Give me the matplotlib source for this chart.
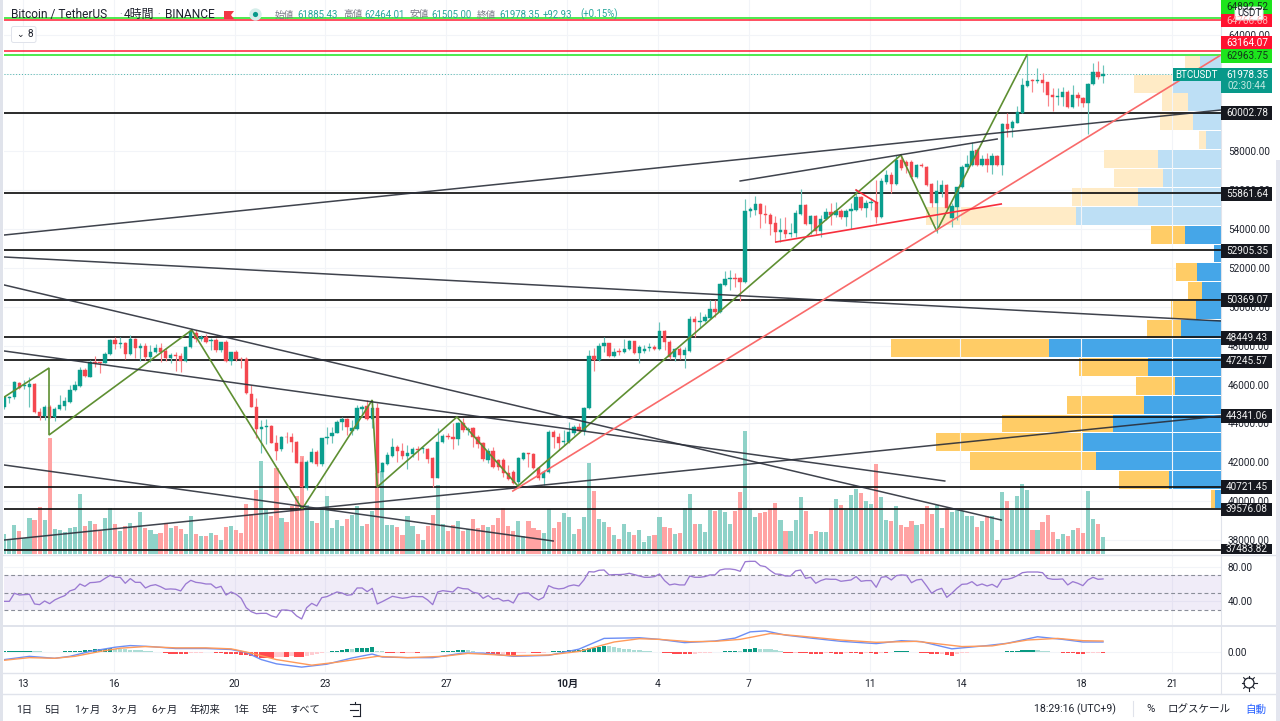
import numpy as np
import matplotlib
matplotlib.use("Agg")
import matplotlib.pyplot as plt
from matplotlib.lines import Line2D
from matplotlib.patches import Rectangle, FancyBboxPatch, Circle

W, H = 1280, 721
FF = ['Roboto', 'Noto Sans CJK JP', 'DejaVu Sans']
plt.rcParams['font.family'] = FF

opens = [44827,45308,45342,46097,45943,45874,46011,44570,44398,44827,
 44347,44724,44879,45119,45702,45943,46749,46406,47144,47144,
 47109,47555,48293,48087,48139,47555,48328,47864,47985,47401,
 47693,47864,47727,47350,47521,47470,47230,47916,48637,48328,
 48465,48259,48293,47779,48173,47230,47659,47315,47298,45514,
 44827,43729,43797,43866,43008,42665,43317,43317,43025,41996,
 40657,41996,42545,41893,43231,43369,43523,44055,44226,43609,
 43712,44741,44896,44226,44776,41481,41910,42339,42802,42596,
 42339,42425,42699,42665,42682,42202,41206,43025,43351,43283,
 43180,44038,43660,43746,43317,43008,42116,42596,42116,42116,
 41464,41515,40966,42167,42459,42408,41721,41206,41481,43574,
 43283,43060,43060,43489,43832,43609,44776,47470,47264,47985,
 48122,47470,47744,47659,47813,48242,47607,47743,47864,47949,
 47829,48773,48207,47435,47829,47520,47726,49391,49202,49254,
 49408,49871,49717,51124,51450,51484,51467,51261,54951,54985,
 55311,54779,54728,54299,53835,53938,53750,53784,54779,55242,
 54264,54676,53921,54504,54899,54728,54951,54607,54951,54985,
 55637,55071,55362,55414,54607,56443,56787,56322,57557,57472,
 57472,56665,57283,57214,56305,55327,55927,56253,54554,55155,
 56150,57214,57300,58072,57300,57592,57300,57780,57300,59411,
 59188,59479,59994,61384,61676,61624,61676,61556,60904,60783,
 60818,61075,60269,60904,60732,60509,61470,62070,61885.43]
highs = [45376,45411,46183,46148,46234,46406,46063,44776,44930,44947,
 44827,45479,45342,45977,46183,46921,46835,47264,47470,47178,
 47693,48328,48465,48465,48173,48551,48379,48122,48122,48036,
 48087,48122,47864,47641,47693,47607,47985,48808,48808,48551,
 48602,48379,48379,48208,48293,47693,47779,47435,47401,45977,
 45290,44175,44209,43918,43403,43351,43574,43489,43111,42287,
 42116,42716,42631,43265,43832,43832,44175,44347,44261,44175,
 44947,44947,45205,45205,45033,42030,42545,43231,42888,42974,
 42888,42802,42836,42802,42716,42287,43746,43454,43489,44003,
 44089,44261,43832,43797,43403,43060,42716,42802,42150,42202,
 41858,41601,42287,42510,42493,42459,41773,41601,43660,43660,
 43489,43660,44089,43918,44003,44861,47779,47864,48122,48465,
 48156,47864,47864,48328,48293,48259,48036,48035,48121,48035,
 49236,48807,48293,47864,47949,47949,49528,49528,49751,49631,
 50352,50352,51210,51862,51896,51759,51553,55534,55157,55706,
 55328,55242,54813,54676,54556,54642,54299,54985,56066,55277,
 54728,54728,54728,55071,55362,55414,55019,55019,55328,56066,
 55706,55500,55586,56529,56615,57044,56958,57815,57815,57557,
 57557,57351,57386,57248,56356,56528,56528,56322,55327,56185,
 57300,57815,58501,58158,57815,57901,57901,57815,59445,59960,
 59617,60337,61762,62963,61710,62311,62019,61590,61247,61247,
 61333,61161,61418,61075,60818,61504,62534,62671,62464.01]
lows = [44724,45033,45273,45754,45754,44861,44518,44175,44175,44261,
 44141,44690,44690,45067,45668,45891,46406,46371,46921,46612,
 47092,47521,47813,47864,47298,47521,47350,47230,47264,47178,
 47607,47178,47230,47092,46715,46663,47178,47882,48208,48259,
 48122,47779,47693,47693,47178,47006,47230,46835,45514,44827,
 43231,42493,42940,42974,42116,42596,42974,42545,41944,40743,
 40571,41944,41807,41824,42940,42974,43489,43660,43403,43403,
 43660,44347,44175,43746,40743,41258,41858,42287,42030,42150,
 41635,42287,42116,42459,41944,40743,41172,42974,43180,42665,
 42888,43574,43403,42802,42716,42081,41944,41687,41601,41258,
 41086,40880,40777,42116,41773,41635,41086,40829,41429,42716,
 42631,42888,42974,43403,43489,43403,44724,46715,47230,47693,
 47435,47401,47521,47607,47779,47573,47092,47606,47743,47778,
 47778,47778,47297,47212,47297,46868,47692,48464,48893,49236,
 49356,49494,49665,51072,50867,51038,50317,51210,54642,54728,
 54041,54299,53698,53355,53320,53526,53578,53578,54728,54213,
 53750,53750,53612,54470,54213,54642,54504,54161,53990,54951,
 54985,54607,54985,54299,54556,56323,55843,56270,57043,56871,
 56614,56614,57214,56236,55155,53816,55670,55035,54125,54468,
 56099,56957,57248,57248,57248,56957,56820,57248,56785,58759,
 58724,59445,59960,61333,61041,61504,61075,60354,60097,60389,
 60337,60217,60251,60337,60303,58896,61418,61710,61505.00]
closes = [45342,45376,46114,45822,45994,46011,44570,44381,44827,44347,
 44724,44930,45153,45736,45977,46749,46440,47144,47092,47092,
 47573,48293,48070,48139,47555,48328,47864,47985,47401,47693,
 47864,47693,47350,47521,47470,47230,47916,48757,48328,48431,
 48208,48293,47779,48173,47230,47659,47298,47298,45548,44827,
 43712,43797,43866,43008,42596,43317,43283,43025,41979,40743,
 42030,42510,41910,43231,43317,43523,44055,44226,43797,43746,
 44776,44861,44226,44810,41464,41944,42373,42802,42596,42322,
 42459,42699,42631,42716,42167,41206,43060,43351,43283,43180,
 44038,43660,43695,43283,42940,42150,42596,41773,41773,41464,
 41120,40949,42202,42459,42408,41687,41206,41515,43574,43283,
 43008,43111,43540,43832,43609,44776,47470,47264,47985,48122,
 47470,47693,47659,47813,48242,47607,47916,47812,47949,47829,
 48773,48207,47435,47829,47520,47778,49391,49202,49288,49459,
 49871,49717,51158,51450,51501,51450,51261,54951,55036,55311,
 54762,54728,54264,53852,53938,53750,53818,54848,55242,54264,
 54676,53921,54539,54899,54728,54934,54607,54951,55036,55637,
 55071,55362,55414,54607,56495,56787,56323,57557,57128,57248,
 56665,57300,57248,56270,55327,55961,56253,55069,55189,56150,
 57214,57334,58021,57300,57592,57300,57780,57300,59411,59170,
 59496,60046,61418,61641,61624,61676,61539,60904,60783,60852,
 61075,60269,60904,60732,60475,61470,62070,61847,61978.35]
volumes = [19,14,28,22,15,35,33,46,33,115,24,23,21,25,26,59,27,32,29,22,
 35,45,29,22,27,30,26,41,25,23,19,20,30,25,27,24,19,37,19,17,
 17,20,18,13,26,27,23,20,49,39,63,92,44,37,85,35,31,47,57,97,
 48,32,30,45,57,25,33,27,34,38,47,27,29,42,80,82,28,28,26,18,
 37,27,19,13,27,38,68,29,22,28,32,22,24,34,25,28,26,28,35,45,
 27,22,32,17,32,25,23,20,44,25,31,40,36,19,24,36,90,62,34,31,
 26,18,14,29,21,18,23,11,17,18,36,26,25,19,20,45,59,29,29,21,
 43,42,43,41,29,42,61,122,44,36,40,41,44,50,33,22,22,33,56,42,
 19,22,21,21,45,54,48,43,58,64,60,52,49,89,56,33,32,47,28,26,
 32,28,29,47,39,48,25,44,41,43,42,37,37,26,32,37,37,13,61,52,
 43,57,69,63,23,23,31,38,21,14,19,17,23,25,20,62,34,29,16]
rsi = [40.0,40.0,49.3,47.3,47.7,48.1,37.0,36.2,40.4,37.3,
 41.6,44.3,46.6,52.0,53.9,60.0,57.3,61.5,61.9,62.7,
 66.5,70.0,67.7,67.7,60.8,66.2,61.9,61.9,55.4,58.1,
 59.2,56.9,53.9,54.3,53.9,52.0,60.0,64.2,61.9,61.2,
 60.0,60.0,55.4,57.3,47.3,50.8,48.1,43.5,32.7,28.1,
 25.8,26.2,26.2,23.2,21.6,30.0,30.0,28.9,23.2,19.7,
 32.7,37.7,34.7,44.3,45.4,48.1,50.8,49.6,47.0,47.7,
 55.4,55.4,51.2,55.0,37.0,39.7,42.7,45.8,44.6,43.5,
 44.3,45.8,45.4,45.4,41.6,36.2,50.8,52.3,51.6,50.8,
 56.2,54.6,54.3,50.4,49.3,43.5,46.6,42.4,43.5,40.4,
 41.2,38.1,48.1,49.6,49.6,44.6,41.6,44.6,58.1,55.4,
 54.3,55.0,57.7,58.9,57.7,64.6,74.2,73.8,75.8,76.1,
 70.4,70.8,70.8,71.2,72.3,70.8,69.2,
 67.7,67.7,68.5,71.5,63.9,58.9,60.0,58.9,58.9,69.2,
 67.7,67.7,68.5,70.4,70.4,76.1,77.3,77.3,76.5,74.6,
 85.7,86.1,86.1,81.1,80.0,75.4,71.5,71.1,69.2,69.2,
 75.0,76.1,66.5,67.7,60.8,63.9,65.8,65.4,65.4,63.1,
 63.9,64.6,68.5,63.1,63.9,63.9,56.2,67.7,68.5,64.6,
 69.6,70.4,70.0,61.5,64.6,65.4,57.7,49.3,53.1,55.0,
 44.6,49.3,55.0,59.6,60.0,62.7,58.1,60.0,57.7,59.6,
 56.2,65.4,65.4,66.9,69.6,73.0,73.8,73.8,73.8,73.0,
 66.5,65.4,65.4,65.8,58.9,62.7,60.8,58.1,64.6,67.7,65.4,65.8]
macd_vals = [-22,-12,-18,-12,3,16,21,18,12,12,9,0,-22,-35,-45,-36,-17,-5,-14,-16,-16,-2,-2,-12,-9,10,43,45,
 40,30,35,44,63,66,53,44,34,27,36,33,11,21,28,48,40,32,32]
macd_at = [0,5,10,13,17,22,25,29,34,40,45,48,51,54,59,64,69,73,75,80,85,91,95,101,108,114,119,126,
 130,135,141,145,148,151,155,160,166,173,178,182,188,195,199,205,210,214,218]
signal_vals = [-24,-16,-18,-12,3,13,18,14,14,11,-2,-22,-39,-30,-12,-16,-12,-3,-10,-8,3,32,42,
 40,33,34,40,58,50,38,31,34,18,20,38,43,36,35]
signal_at = [0,5,10,14,19,23,28,34,40,45,49,54,61,66,74,80,87,92,101,108,114,121,126,
 130,136,141,146,152,158,166,173,181,190,196,203,209,214,218]
hist = [4,4,4,4,4,5,4,3,2,1,1,2,3,3,4,5,7,8,9,10,11,13,
 12,11,9,8,7,6,5,4,2,1,-3,-4,-4,-4,-4,-3,-2,-1,1,0.5,
 -3,-3,-4,-5,-5,-7,-9,-12,-15,-16,-16,-17,-14,-13,-13,-12,-14,-15,-10,-7,-5,-3,
 2,3,5,7,10,9,14,14.5,15,15.5,5,3,-2,-3,-2,-3,-2,-1,-1,1,1,
 0.5,2,3,3.5,4,6,7,6,3,2,1,-1,-6,-7,-6,-7,-8,-3,-2,1,-2,-3,-1,
 2,3,4,5,6,7,8,11,13,15,17,21,19,18,15,12,10,8,7,
 5,3,2,1,-1,-3,-4,-5,-5,-6,-5,-3,-2,-1,1,2,3,5,5,4,9,11,13,11,10,9,7,5,
 -2,-3,-1,-1,-3,-4,-4,-5,-3,-3,-4,-5,-3,-3,-3,-4,-2,-2,-6,-1,-1,
 2,3,3,3,1,0,-2,-3,-6,-6,-5,-9,-10,-6,-3,-1,1,2,1.5,1,1,1,
 2,3,4,5,6,7.5,8,6,5,3,2,1,-1,-2,-3,-4,-5,-3,-2,-1,-1]

black_levels = [60002.78,55861.64,52905.35,50369.07,48449.43,47245.57,44341.06,40721.45,39576.08,37483.82]
red_levels = [64766.68,63164.07]
green_levels = [64892.52,62963.75]
last_price = 61978.35

zigzag_i = [0,8.87,8.87,37.2,59.1,73,74,89.8,101.9,177.9,185,202.9]
zigzag_p = [45360,46853,43404,48809,39596,45206,40728,44331,40779,57816,53904,62963]
trend_lines = [((0,241.4),(53698,60132)),((146,197),(56478,58639)),((0,241.4),(52566,49272)),
 ((0,197.8),(51125,39029)),((0,186.6),(47728,41037)),((0,108.9),(41860,37949)),((0,241.4),(38000,44382))]
salmon_line = ((100.9,241.4),(40522,62963))
red_lines = [((153.1,197.8),(53338,55294)),((169,173.2),(56014,55345))]

vp_row_low = 39647
vp_row_size = 972
vp_buy = [6,52,125,138,108,77,46,73,172,40,25,19,24,7,36,145,83,58,63,15,28,33,48,21]
vp_sell = [4,50,126,147,111,77,39,69,158,34,25,14,21,0,34,150,66,49,54,7,33,26,39,15]
vp_light_from = 15

price_ticks = list(range(38000, 66000, 2000))
day_ticks = [3.7,21.7,45.7,63.7,87.7,111.7,129.7,147.7,171.7,189.7,213.7,231.7]
day_labels = ['13','16','20','23','27','10月','4','7','11','14','18','21']
range_labels = ['1日','5日','1ヶ月','3ヶ月','6ヶ月','年初来','1年','5年','すべて']
range_x = [24,52,87,125,164,205,241,269,304]

UP, DN = '#0A9E8E', '#F4474F'
TXT = '#1E222D'
GRID = '#F2F4F8'
SEP = '#E0E3EB'

fig = plt.figure(figsize=(W/100, H/100), dpi=100, facecolor='white')

def rect(x0, y0, x1, y1):
    return [x0/W, 1-y1/H, (x1-x0)/W, (y1-y0)/H]

X0, X1 = 4, 1221
PB = 554
xlim = ((X0-4.3)/5.04, (X1-4.3)/5.04)
main_rect = rect(X0, 0, X1, PB)
ylim = (38000+(540-PB)*51.47, 38000+540*51.47)

# volume profile (lowest)
axv = fig.add_axes(main_rect, zorder=1)
axv.set_xlim(X1-X0, 0)
axv.set_ylim(ylim)
rows = vp_row_low + vp_row_size*np.arange(len(vp_buy))
buy = np.array(vp_buy, float); sell = np.array(vp_sell, float)
light = np.arange(len(vp_buy)) >= vp_light_from
axv.barh(rows, buy, height=vp_row_size*0.95, align='edge',
         color=['#BDDFF5' if l else '#45A6E8' for l in light], linewidth=0)
axv.barh(rows, sell, left=buy, height=vp_row_size*0.95, align='edge',
         color=['#FFEBC6' if l else '#FFCC66' for l in light], linewidth=0)
axv.set_yticks(price_ticks)
axv.grid(axis='y', color=GRID, lw=0.8)
axv.set_axisbelow(True)
axv.tick_params(left=False, bottom=False, labelleft=False, labelbottom=False)
for s in axv.spines.values():
    s.set_visible(False)

# volume bars
axb = fig.add_axes(main_rect, zorder=2)
axb.patch.set_visible(False)
axb.set_xlim(xlim)
axb.set_ylim(0, PB)
xs = np.arange(len(opens))
o, h, l, c = map(np.array, (opens, highs, lows, closes))
up = c >= o
axb.bar(xs, np.array(volumes)+1, width=0.82, color=np.where(up, '#8FD2C8', '#FFA3A3'), linewidth=0)
axb.set_xticks(day_ticks)
axb.grid(axis='x', color=GRID, lw=0.8)
axb.set_axisbelow(True)
axb.tick_params(left=False, bottom=False, labelleft=False, labelbottom=False)
for s in axb.spines.values():
    s.set_visible(False)

# main price pane
ax = fig.add_axes(main_rect, zorder=3)
ax.patch.set_visible(False)
ax.set_xlim(xlim)
ax.set_ylim(ylim)
ax.set_xticks([])
ax.yaxis.tick_right()
ax.set_yticks(price_ticks)
ax.set_yticklabels([f'{p:.2f}' for p in price_ticks], fontsize=7.2, color=TXT)
ax.tick_params(axis='y', length=0, pad=5)
for s in ax.spines.values():
    s.set_visible(False)

for lev in black_levels:
    ax.axhline(lev, color='#111111', lw=1.25, zorder=2)
for lev in red_levels:
    ax.axhline(lev, color='#FF1F35', lw=1.1, zorder=2)
for lev in green_levels:
    ax.axhline(lev, color='#1DE41D', lw=1.1, zorder=2)
ax.axhline(last_price, color='#4DB6AC', lw=0.7, ls=(0, (1, 2)), zorder=2)

colors = np.where(up, UP, DN)
ax.vlines(xs, l, h, colors=np.where(up, '#6CC4BA', '#F9858A'), lw=0.85, zorder=3)
ax.bar(xs, np.abs(c-o), bottom=np.minimum(o, c), width=0.68, color=colors,
       edgecolor=colors, linewidth=0.3, zorder=4)

ax.plot(zigzag_i, zigzag_p, color='#5E8F32', lw=1.2, zorder=5, solid_joinstyle='miter')
for xx, yy in trend_lines:
    ax.plot(xx, yy, color='#2A2E39', lw=1.1, alpha=0.9, zorder=5)
ax.plot(salmon_line[0], salmon_line[1], color='#F96A6A', lw=1.2, zorder=5)
for xx, yy in red_lines:
    ax.plot(xx, yy, color='#F72E3C', lw=1.2, zorder=5)

# RSI pane
ar = fig.add_axes(rect(X0, 555, X1, 625))
ar.set_xlim(xlim)
ar.set_ylim(70-(625-575.3)/0.868, 70+(575.3-555)/0.868)
ar.axhspan(30, 70, color='#7E57C2', alpha=0.11, lw=0)
for lv in (30, 50, 70):
    ar.axhline(lv, color='#8A8E99', lw=0.8, ls=(0, (3.5, 2.5)))
ar.plot(xs, rsi, color='#9B7AD2', lw=0.95)
ar.set_xticks(day_ticks)
ar.yaxis.tick_right()
ar.set_yticks([40, 80])
ar.set_yticklabels(['40.00', '80.00'], fontsize=7.2, color=TXT)
ar.grid(color=GRID, lw=0.8)
ar.set_axisbelow(True)
ar.tick_params(axis='y', length=0, pad=5)
ar.tick_params(axis='x', length=0, labelbottom=False)
for s in ar.spines.values():
    s.set_visible(False)

# MACD pane
am = fig.add_axes(rect(X0, 626, X1, 672))
am.set_xlim(xlim)
am.set_ylim(-60, 81)
hv = np.array(hist, float)
prev = np.r_[hv[0], hv[:-1]]
hc = np.where(hv >= 0, np.where(hv >= prev, '#089981', '#ACDDD6'),
              np.where(hv <= prev, '#FF4A4F', '#FFCDD2'))
am.bar(xs, hv, width=0.86, color=hc, linewidth=0, zorder=3)
am.plot(macd_at, macd_vals, color='#6C8EF5', lw=1.0, zorder=4)
am.plot(signal_at, signal_vals, color='#FF9A5A', lw=1.0, zorder=5)
am.set_xticks(day_ticks)
am.set_xticklabels(day_labels, fontsize=7.4, color=TXT)
am.get_xticklabels()[5].set_fontweight('bold')
am.yaxis.tick_right()
am.set_yticks([0])
am.set_yticklabels(['0.00'], fontsize=7.2, color=TXT)
am.grid(color=GRID, lw=0.8)
am.set_axisbelow(True)
am.tick_params(axis='y', length=0, pad=5)
am.tick_params(axis='x', length=0, pad=5)
for s in am.spines.values():
    s.set_visible(False)

# figure-level helpers in pixels
def T(x, y, s, size=7.6, color=TXT, ha='left', va='center', z=30, **kw):
    return fig.text(x/W, 1-y/H, s, fontsize=size, color=color, ha=ha, va=va, zorder=z, **kw)

def R(x0, y0, x1, y1, fc, z=20, ec='none', lw=0):
    fig.add_artist(Rectangle((x0/W, 1-y1/H), (x1-x0)/W, (y1-y0)/H, transform=fig.transFigure,
                             fc=fc, ec=ec, lw=lw, zorder=z))

def LN(xa, ya, xb, yb, color=SEP, lw=0.8, z=15):
    fig.add_artist(Line2D([xa/W, xb/W], [1-ya/H, 1-yb/H], color=color, lw=lw, zorder=z))

def RB(x0, y0, x1, y1, fc, ec, z=25, rad=2):
    fig.add_artist(FancyBboxPatch((x0, H-y1), x1-x0, y1-y0, boxstyle=f'round,pad=0,rounding_size={rad}',
                                  transform=matplotlib.transforms.Affine2D().scale(1/W, 1/H)+fig.transFigure,
                                  fc=fc, ec=ec, lw=0.7, zorder=z))

R(0, 0, 3, H, '#E0E3EB')
R(1276, 160, W, H, '#E4E6EF')
LN(X1, 0, X1, 694)
LN(3, 554.8, 1276, 554.8, lw=1.0)
LN(3, 625.5, 1276, 625.5, lw=1.4)
LN(3, 672.5, 1276, 672.5, lw=1.0)
LN(3, 694, 1276, 694, lw=1.0)
LN(1133, 701, 1133, 716, lw=0.8)

# stacked price labels
def label(text, y, bg, fg):
    R(X1, y-6.7, 1272, y+6.7, bg)
    T(1247, y, text, size=7.2, color=fg, ha='center')

label('64892.52', 7, '#1DE41D', '#12351A')
label('64766.68', 20.5, '#FF1230', '#FFB4B4')
label('63164.07', 42.7, '#FF1230', 'white')
label('62963.75', 56, '#1DE41D', '#12351A')
for txt, y in [('60002.78',113),('55861.64',194),('52905.35',251),('50369.07',300),('48449.43',338),
               ('47245.57',361),('44341.06',416),('40721.45',487),('39576.08',509.5)]:
    label(txt, y, '#16181F', '#F2F2F2')
R(X1, 544, 1272, 554, '#16181F')
T(1247, 549.5, '37483.82', size=7.2, color='#F2F2F2', ha='center')

R(1173, 68, X1, 81, '#08998A')
T(1197, 74.8, 'BTCUSDT', size=7.0, color='white', ha='center')
R(X1, 68, 1272, 93, '#08998A')
T(1247, 75, '61978.35', size=7.2, color='white', ha='center')
T(1247, 86, '02:30:44', size=7.2, color='#BFE8E1', ha='center')
RB(1235, 7, 1263, 20, 'white', '#E0E3EB', rad=2)
T(1249, 13.5, 'USDT', size=7.0, color=TXT, ha='center')

# header
T(11, 14.5, 'Bitcoin / TetherUS', size=8.6, color=TXT)
T(119, 14.5, '·', size=7, color='#787B86')
T(124, 14.5, '4時間', size=8.6, color=TXT)
T(157, 14.5, '·', size=7, color='#787B86')
T(165, 14.5, 'BINANCE', size=8.6, color=TXT)
fig.add_artist(plt.Polygon([(224/W, 1-11/H), (234/W, 1-11/H), (231/W, 1-15/H), (234/W, 1-19/H), (224/W, 1-19/H)],
                           closed=True, transform=fig.transFigure, fc='#F23645', ec='none', zorder=25))
tr = matplotlib.transforms.Affine2D().scale(1/W, 1/H)+fig.transFigure
fig.add_artist(Circle((255.5, H-14.5), 6.2, transform=tr, fc='#D5EEEA', ec='none', zorder=25))
fig.add_artist(Circle((255.5, H-14.5), 2.6, transform=tr, fc='#08998A', ec='none', zorder=26))
GR, TL = '#787B86', '#26A69A'
for x, s, col in [(275,'始値',GR),(297,'61885.43',TL),(343,'高値',GR),(364,'62464.01',TL),
                  (410,'安値',GR),(431,'61505.00',TL),(477,'終値',GR),(499,'61978.35',TL),
                  (543,'+92.93',TL),(580,'(+0.15%)',TL)]:
    T(x, 14.5, s, size=6.9, color=col)
RB(11.5, 26.5, 36, 42.5, 'white', '#E0E3EB', rad=2)
T(24, 34.5, '⌄', size=6.5, color=TXT, ha='right', family=['DejaVu Sans'])
T(27, 34, '8', size=7.2, color=TXT)

# bottom bar
for x, s in zip(range_x, range_labels):
    T(x, 709.5, s, size=7.4, ha='center')
LN(350, 704, 360, 704, color=TXT, lw=0.8, z=25)
LN(360, 704, 360, 716, color=TXT, lw=0.8, z=25)
LN(353, 716, 360, 716, color=TXT, lw=0.8, z=25)
LN(350, 710, 358, 710, color=TXT, lw=0.8, z=25)
LN(355, 701.5, 355, 704, color=TXT, lw=0.8, z=25)
T(1034, 709.5, '18:29:16 (UTC+9)', size=7.6)
T(1151, 709.5, '%', size=8.2, ha='center')
T(1168, 709.5, 'ログスケール', size=7.6)
T(1245, 709.5, '自動', size=7.6, color='#2962FF')
fig.add_artist(Circle((1249, H-683), 5, transform=tr, fc='white', ec=TXT, lw=0.9, zorder=25))
for a in np.arange(0, 360, 45):
    ca, sa = np.cos(np.radians(a)), np.sin(np.radians(a))
    LN(1249+5*ca, 683+5*sa, 1249+7.5*ca, 683+7.5*sa, color=TXT, lw=0.8, z=25)

fig.savefig('out.png', dpi=100, facecolor='white')
